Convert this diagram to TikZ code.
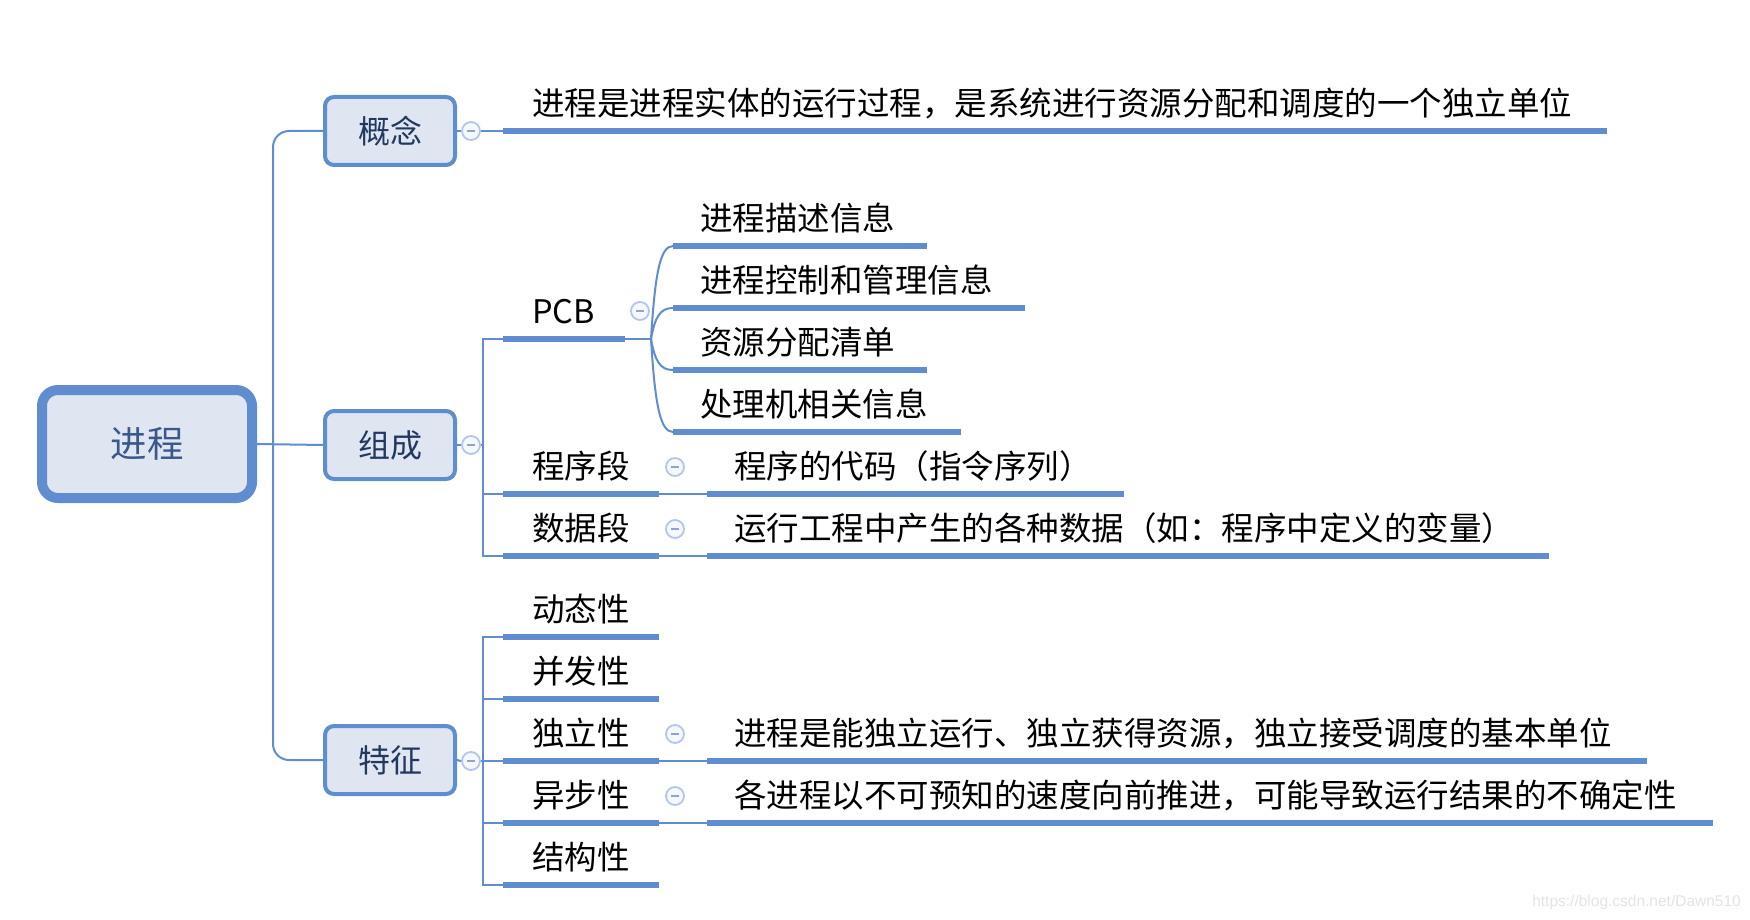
\documentclass[tikz,border=0pt]{standalone}
\usepackage{fontspec}
\setmainfont{Noto Sans CJK SC}
\newfontfamily\wmfont{Liberation Sans}
\definecolor{lineblue}{HTML}{5F8DCF}
\definecolor{boxfill}{HTML}{DFE6F1}
\definecolor{boxtext}{HTML}{22395F}
\definecolor{roottext}{HTML}{3A588B}
\definecolor{cbord}{HTML}{B3C6EE}
\definecolor{cfill}{HTML}{F6F8FD}
\definecolor{cminus}{HTML}{8EA3D6}
\definecolor{wmgray}{HTML}{E4E4E4}
\tikzset{
 rootbox/.style={draw=lineblue, fill=boxfill, line width=10pt, rounded corners=16pt,
   minimum width=210pt, minimum height=108pt, inner sep=0pt,
   font=\fontsize{36.5}{40}\selectfont, text=roottext},
 mainbox/.style={draw=lineblue, fill=boxfill, line width=4pt, rounded corners=9pt,
   minimum width=130pt, minimum height=68pt, inner sep=0pt,
   font=\fontsize{32}{36}\selectfont, text=boxtext},
 lbl/.style={anchor=base west, inner sep=0pt, font=\fontsize{32.5}{36}\selectfont, text=black},
 uline/.style={draw=lineblue, line width=5.5pt},
 conn/.style={draw=lineblue, line width=2pt},
 collapse/.style={circle, draw=cbord, fill=cfill, line width=1.8pt, minimum size=18pt, inner sep=0pt,
   path picture={\draw[cminus, line width=1.6pt]
     ([xshift=-4pt]path picture bounding box.center) -- ([xshift=4pt]path picture bounding box.center);}},
}
\begin{document}
\begin{tikzpicture}[x=1pt,y=-1pt]
\useasboundingbox (0,0) rectangle (1750,920);
\fill[white] (0,0) rectangle (1750,920);

% trunk
\node[mainbox] (gn) at (390,131) {概念};
\node[mainbox] (zc) at (390,445) {组成};
\node[mainbox] (tz) at (390,760) {特征};
\draw[conn, rounded corners=16pt] (gn.west) -- (273,131) -- (273,760) -- (tz.west);
\node[rootbox] (root) at (147,444) {进程};
\draw[conn] (root.east) -- (zc.west);

% 概念
\node[collapse] (c1) at (471,131) {};
\coordinate (d1L) at (503,131);
\coordinate (d1R) at (1607,131);
\draw[conn] (gn.east) -- (c1.west);
\draw[conn] (c1.east) -- (d1L);
\draw[uline] (d1L) -- (d1R);
\node[lbl] (d1) at (532,116) {进程是进程实体的运行过程，是系统进行资源分配和调度的一个独立单位};

% 组成
\node[collapse] (c2) at (471,445) {};
\draw[conn] (zc.east) -- (c2.west);
\coordinate (zcV) at (483,445);
\draw[conn] (c2.east) -- (zcV);
\coordinate (pcbL) at (503,339);
\coordinate (pcbR) at (625,339);
\coordinate (pcbB) at (651,339);
\coordinate (cxdL) at (503,494);
\coordinate (cxdR) at (659,494);
\coordinate (sjdL) at (503,556);
\coordinate (sjdR) at (659,556);
\draw[conn] (pcbL) -- (483,339) -- (483,556) -- (sjdL);
\draw[conn] (483,494) -- (cxdL);

% PCB
\draw[uline] (pcbL) -- (pcbR);
\draw[conn] (pcbR) -- (pcbB);
\node[lbl] (pcb) at (532,323) {PCB};
\node[collapse] (c3) at (640,311) {};
\coordinate (p1L) at (673,246); \coordinate (p1R) at (927,246);
\coordinate (p2L) at (673,308); \coordinate (p2R) at (1025,308);
\coordinate (p3L) at (673,370); \coordinate (p3R) at (927,370);
\coordinate (p4L) at (673,432); \coordinate (p4R) at (961,432);
\draw[conn] (pcbB) .. controls (655,274) and (660,246) .. (p1L);
\draw[conn] (pcbB) .. controls (655,317) and (660,308) .. (p2L);
\draw[conn] (pcbB) .. controls (655,361) and (660,370) .. (p3L);
\draw[conn] (pcbB) .. controls (655,404) and (660,432) .. (p4L);
\draw[uline] (p1L) -- (p1R);
\draw[uline] (p2L) -- (p2R);
\draw[uline] (p3L) -- (p3R);
\draw[uline] (p4L) -- (p4R);
\node[lbl] (p1) at (700,230) {进程描述信息};
\node[lbl] (p2) at (700,292) {进程控制和管理信息};
\node[lbl] (p3) at (700,354) {资源分配清单};
\node[lbl] (p4) at (700,416) {处理机相关信息};

% 程序段
\draw[uline] (cxdL) -- (cxdR);
\node[lbl] (cxd) at (532,478) {程序段};
\node[collapse] (c4) at (675,467) {};
\coordinate (cxL) at (707,494); \coordinate (cxR) at (1124,494);
\draw[conn] (cxdR) -- (cxL);
\draw[uline] (cxL) -- (cxR);
\node[lbl] (cx) at (734,478) {程序的代码（指令序列）};

% 数据段
\draw[uline] (sjdL) -- (sjdR);
\node[lbl] (sjd) at (532,540) {数据段};
\node[collapse] (c5) at (675,529) {};
\coordinate (sjL) at (707,556); \coordinate (sjR) at (1549,556);
\draw[conn] (sjdR) -- (sjL);
\draw[uline] (sjL) -- (sjR);
\node[lbl] (sj) at (734,540) {运行工程中产生的各种数据（如：程序中定义的变量）};

% 特征
\node[collapse] (c6) at (471,761) {};
\draw[conn] (tz.east) -- (c6.west);
\coordinate (t1L) at (503,637); \coordinate (t1R) at (659,637);
\coordinate (t2L) at (503,699); \coordinate (t2R) at (659,699);
\coordinate (t3L) at (503,761); \coordinate (t3R) at (659,761);
\coordinate (t4L) at (503,823); \coordinate (t4R) at (659,823);
\coordinate (t5L) at (503,885); \coordinate (t5R) at (659,885);
\draw[conn] (t1L) -- (483,637) -- (483,885) -- (t5L);
\draw[conn] (483,699) -- (t2L);
\draw[conn] (c6.east) -- (t3L);
\draw[conn] (483,823) -- (t4L);
\draw[uline] (t1L) -- (t1R);
\draw[uline] (t2L) -- (t2R);
\draw[uline] (t3L) -- (t3R);
\draw[uline] (t4L) -- (t4R);
\draw[uline] (t5L) -- (t5R);
\node[lbl] (t1) at (532,621) {动态性};
\node[lbl] (t2) at (532,683) {并发性};
\node[lbl] (t3) at (532,745) {独立性};
\node[lbl] (t4) at (532,807) {异步性};
\node[lbl] (t5) at (532,869) {结构性};

\node[collapse] (c7) at (675,734) {};
\node[collapse] (c8) at (675,796) {};
\coordinate (dlL) at (707,761); \coordinate (dlR) at (1647,761);
\coordinate (ybL) at (707,823); \coordinate (ybR) at (1713,823);
\draw[conn] (t3R) -- (dlL);
\draw[conn] (t4R) -- (ybL);
\draw[uline] (dlL) -- (dlR);
\draw[uline] (ybL) -- (ybR);
\node[lbl] (dl) at (734,745) {进程是能独立运行、独立获得资源，独立接受调度的基本单位};
\node[lbl] (yb) at (734,807) {各进程以不可预知的速度向前推进，可能导致运行结果的不确定性};

% watermark
\node[anchor=east, inner sep=0pt, font=\wmfont\fontsize{15.5}{18}\selectfont, text=wmgray] (wm) at (1741,902) {https://blog.csdn.net/Dawn510};
\end{tikzpicture}
\end{document}
